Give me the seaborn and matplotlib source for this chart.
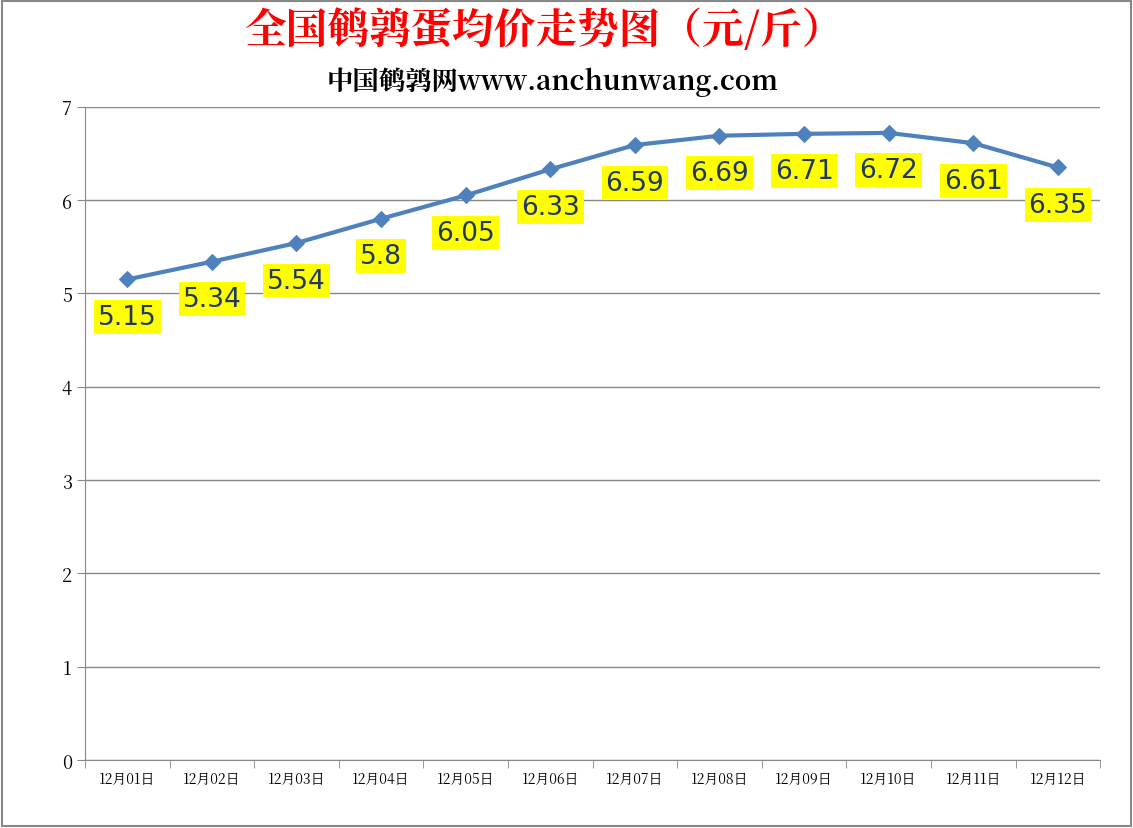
import matplotlib
matplotlib.use("Agg")
import matplotlib.pyplot as plt
from matplotlib import font_manager as fm
import seaborn as sns
import pandas as pd
import numpy as np

dates = ["12月01日","12月02日","12月03日","12月04日","12月05日","12月06日",
         "12月07日","12月08日","12月09日","12月10日","12月11日","12月12日"]
prices = [5.15,5.34,5.54,5.8,6.05,6.33,6.59,6.69,6.71,6.72,6.61,6.35]
labels = ["5.15","5.34","5.54","5.8","6.05","6.33","6.59","6.69","6.71","6.72","6.61","6.35"]

cjk = None
for f in fm.fontManager.ttflist:
    if "CJK" in f.name and ("SC" in f.name or cjk is None):
        cjk = f.name
if cjk is None:
    cjk = "Noto Sans CJK SC"
plt.rcParams["font.family"] = [cjk, "DejaVu Sans"]
df = pd.DataFrame({"x": np.arange(len(dates)), "y": prices})

fig = plt.figure(figsize=(11.33, 8.29), dpi=100)
ax = fig.add_axes([0.075, 0.082, 0.896, 0.788])
sns.lineplot(data=df, x="x", y="y", ax=ax, color="#4F81BD", linewidth=3,
             marker="D", markersize=8, markeredgecolor="#4F81BD")
ax.set_xlim(-0.5, len(dates) - 0.5)
ax.set_ylim(0, 7)
ax.set_yticks(range(8))
ax.set_xticks(range(len(dates)))
ax.set_xticklabels(dates, fontsize=10)
ax.set_xticks(np.arange(-0.5, len(dates), 1), minor=True)
ax.tick_params(axis="x", which="major", length=0, pad=8)
ax.tick_params(axis="x", which="minor", length=6, color="#888888")
ax.tick_params(axis="y", labelsize=13, length=6, color="#888888")
ax.grid(axis="y", color="#888888", linewidth=1)
ax.set_axisbelow(True)
for s in ["top", "right"]:
    ax.spines[s].set_visible(False)
for s in ["left", "bottom"]:
    ax.spines[s].set_color("#888888")
ax.set_xlabel("")
ax.set_ylabel("")
for i, (v, t) in enumerate(zip(prices, labels)):
    ax.annotate(t, (i, v), xytext=(0, -27), textcoords="offset points",
                ha="center", va="center", fontsize=19, color="#1F3864",
                family="DejaVu Sans",
                bbox=dict(boxstyle="square,pad=0.15", fc="#FFFF00", ec="none"))
fig.text(0.48, 0.962, "全国鹌鹑蛋均价走势图（元/斤）", ha="center", va="center",
         fontsize=30, color="#FF0000", fontweight="bold")
fig.text(0.488, 0.901, "中国鹌鹑网www.anchunwang.com", ha="center", va="center",
         fontsize=19, color="black", fontweight="bold")
fig.patches.append(plt.Rectangle((0.002, 0.002), 0.996, 0.996, transform=fig.transFigure,
                                 fill=False, ec="#888888", lw=1.5))
fig.savefig("out.png", dpi=100)
